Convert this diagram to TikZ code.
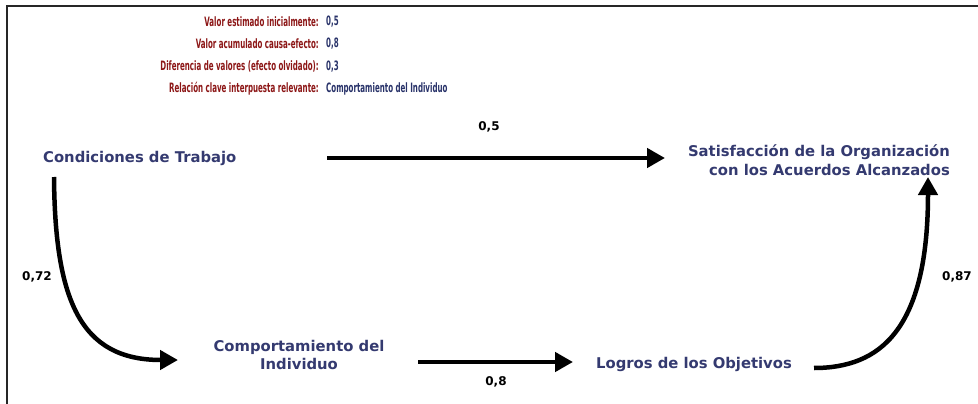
\documentclass[tikz,border=0pt]{standalone}
\usepackage{fontspec}
\setmainfont{DejaVu Sans}
\newfontfamily\hdrfont[FakeStretch=0.61]{DejaVu Sans Condensed Bold}
\newfontfamily\lblfont{DejaVu Sans Bold}
\usetikzlibrary{arrows.meta}
\definecolor{hdrred}{RGB}{140,22,22}
\definecolor{hdrblue}{RGB}{40,50,105}
\definecolor{lblblue}{RGB}{52,58,112}
\tikzset{
  hdrkey/.style={anchor=east, inner sep=0pt, text=hdrred, font=\hdrfont\fontsize{12.9}{15}\selectfont},
  hdrval/.style={anchor=west, inner sep=0pt, text=hdrblue, font=\hdrfont\fontsize{12.9}{15}\selectfont},
  concept/.style={inner sep=0pt, text=lblblue, font=\lblfont\fontsize{14.8}{18.5}\selectfont},
  weight/.style={inner sep=0pt, text=black, font=\lblfont\fontsize{12}{14}\selectfont},
  bigarrow/.style={line width=4.5pt, -{Triangle[length=18pt,width=19pt]}},
  frameline/.style={line width=2pt, draw=black!85}
}
\begin{document}
\begin{tikzpicture}[x=1pt,y=-1pt]
\useasboundingbox (0,0) rectangle (978,404);
\fill[white] (0,0) rectangle (978,404);
\draw[frameline] (7,404) -- (7,6.5) -- (978,6.5);
% header
\node[hdrkey] (k1) at (319,22) {Valor estimado inicialmente:};
\node[hdrval] (v1) at (326,22) {0,5};
\node[hdrkey] (k2) at (319,44) {Valor acumulado causa-efecto:};
\node[hdrval] (v2) at (326,44) {0,8};
\node[hdrkey] (k3) at (319,66.5) {Diferencia de valores (efecto olvidado):};
\node[hdrval] (v3) at (326,66.5) {0,3};
\node[hdrkey] (k4) at (319,89) {Relación clave interpuesta relevante:};
\node[hdrval] (v4) at (326,89) {Comportamiento del Individuo};
% concepts
\node[concept, anchor=west] (cond) at (43,158) {Condiciones de Trabajo};
\node[concept, align=right, anchor=east] (sat) at (950,160) {Satisfacción de la Organización\\con los Acuerdos Alcanzados};
\node[concept, align=center] (comp) at (299,355) {Comportamiento del\\Individuo};
\node[concept, anchor=west] (logr) at (596,364) {Logros de los Objetivos};
% connector end points
\coordinate (a1s) at (327,158);
\coordinate (a1e) at (665,158);
\coordinate (c1s) at (54,177);
\coordinate (c1e) at (178,360);
\coordinate (a2s) at (418,362);
\coordinate (a2e) at (573,362);
\coordinate (c2s) at (814,368);
\coordinate (c2e) at (928,177);
\draw[bigarrow] (a1s) -- (a1e);
\draw[bigarrow] (c1s) .. controls (55,300) and (80,360) .. (c1e);
\draw[bigarrow] (a2s) -- (a2e);
\draw[bigarrow] (c2s) .. controls (880,368) and (928,330) .. (c2e);
% weights
\node[weight] (w1) at (489,127) {0,5};
\node[weight] (w2) at (37,277) {0,72};
\node[weight] (w3) at (496,382) {0,8};
\node[weight] (w4) at (957,277) {0,87};
\end{tikzpicture}
\end{document}
